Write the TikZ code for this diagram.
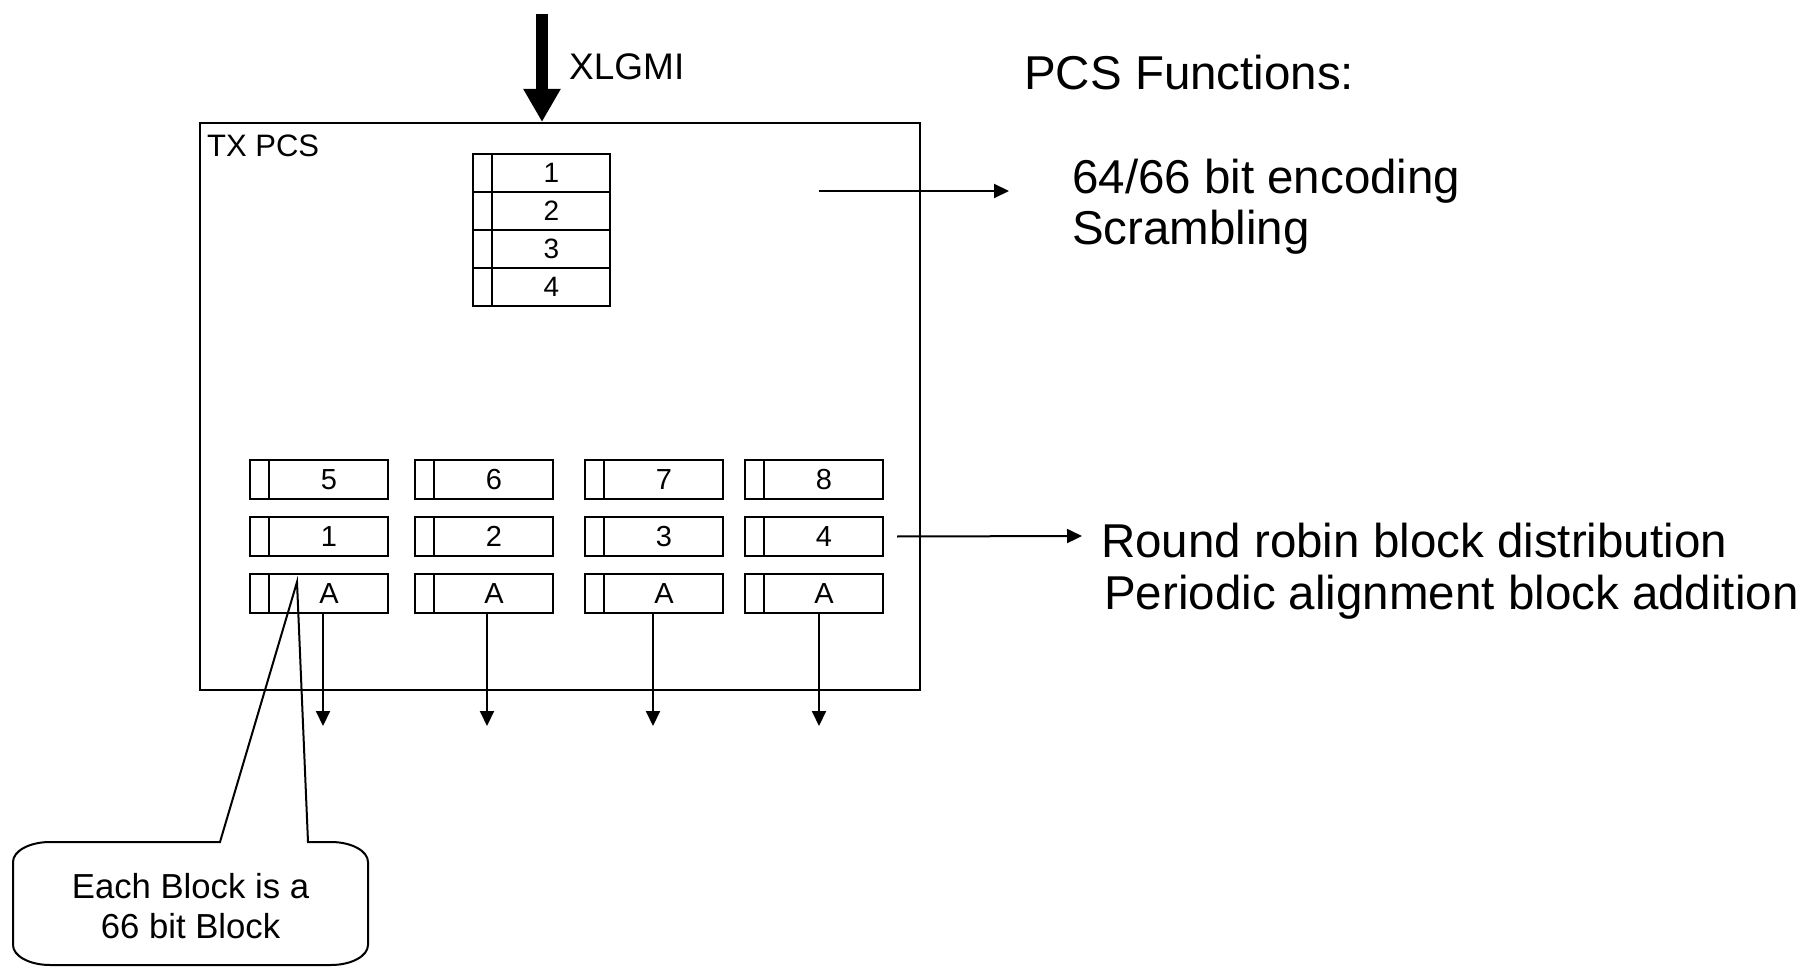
\documentclass[tikz,border=0pt]{standalone}
\usepackage{fontspec}
\setmainfont{Liberation Sans}
\usetikzlibrary{arrows.meta,calc}
\tikzset{
  blk/.style={draw, line width=2pt, inner sep=0pt, rectangle},
  lbl/.style={inner sep=0pt},
  arr/.style={line width=2pt, -{Triangle[length=15pt,width=14pt]}},
  bigtxt/.style={inner sep=0pt, anchor=base west, font=\fontsize{47.5pt}{52pt}\selectfont},
}
\newcommand\blkbox[8]{%
  \node[blk, minimum width=#4pt, minimum height=#5pt, anchor=north west] (#1) at (#2,#3) {};
  \draw[line width=2.4pt] ([xshift=#6pt]#1.north west) -- ([xshift=#6pt]#1.south west);
  \node[lbl, font=\fontsize{#8pt}{#8pt}\selectfont] (#1l) at ($([xshift=#6pt]#1.west)!0.5!(#1.east)$) {#7};
}
\begin{document}
\begin{tikzpicture}[x=1pt,y=-1pt]
\useasboundingbox (0,0) rectangle (1813,968);
% main box
\node[blk, minimum width=720pt, minimum height=567pt, anchor=north west] (pcs) at (199,122) {};
\node[lbl, anchor=base west, font=\fontsize{31pt}{34pt}\selectfont] (txl) at (207,157) {TX PCS};
% input arrow
\coordinate (xin) at (542,14);
\draw[line width=12pt, -{Triangle[length=33pt,width=35pt]}] (xin) -- (xin |- pcs.north);
\node[lbl, anchor=base west, font=\fontsize{37pt}{40pt}\selectfont] (xl) at (569,80) {XLGMI};
% top stack
\blkbox{t1}{472}{153}{137}{38}{20}{1}{28}
\blkbox{t2}{472}{191}{137}{38}{20}{2}{28}
\blkbox{t3}{472}{229}{137}{38}{20}{3}{28}
\blkbox{t4}{472}{267}{137}{38}{20}{4}{28}
% bottom blocks
\blkbox{b11}{249}{459}{138}{39}{20}{5}{29}
\blkbox{b12}{414}{459}{138}{39}{20}{6}{29}
\blkbox{b13}{584}{459}{138}{39}{20}{7}{29}
\blkbox{b14}{744}{459}{138}{39}{20}{8}{29}
\blkbox{b21}{249}{516}{138}{39}{20}{1}{29}
\blkbox{b22}{414}{516}{138}{39}{20}{2}{29}
\blkbox{b23}{584}{516}{138}{39}{20}{3}{29}
\blkbox{b24}{744}{516}{138}{39}{20}{4}{29}
\blkbox{b31}{249}{573}{138}{39}{20}{A}{29}
\blkbox{b32}{414}{573}{138}{39}{20}{A}{29}
\blkbox{b33}{584}{573}{138}{39}{20}{A}{29}
\blkbox{b34}{744}{573}{138}{39}{20}{A}{29}
% output arrows
\coordinate (o1) at (323,726);
\coordinate (o2) at (487,726);
\coordinate (o3) at (653,726);
\coordinate (o4) at (819,726);
\draw[arr] (b31.south -| o1) -- (o1);
\draw[arr] (b32.south -| o2) -- (o2);
\draw[arr] (b33.south -| o3) -- (o3);
\draw[arr] (b34.south -| o4) -- (o4);
% function arrows
\coordinate (f1s) at (819,191);
\coordinate (f1e) at (1009,191);
\draw[arr] (f1s) -- (f1e);
\coordinate (f2e) at (1082,536);
\draw[arr] ([xshift=13pt]b24.east) -- (f2e);
% texts
\node[bigtxt] (pf) at (1024,90) {PCS Functions:};
\node[bigtxt] (enc) at (1072,194) {64/66 bit encoding};
\node[bigtxt] (scr) at (1072,245) {Scrambling};
\node[bigtxt] (rr) at (1101,557) {Round robin block distribution};
\node[bigtxt] (pa) at (1104,609) {Periodic alignment block addition};
% callout
\coordinate (tip) at (297,582);
\draw[line width=2pt, line join=miter]
  (220,842) -- (tip) -- (308,842) -- (331,842)
  arc[start angle=-90, end angle=0, x radius=37, y radius=20]
  -- (368,945)
  arc[start angle=0, end angle=90, x radius=37, y radius=20]
  -- (50,965)
  arc[start angle=90, end angle=180, x radius=37, y radius=20]
  -- (13,862)
  arc[start angle=180, end angle=270, x radius=37, y radius=20]
  -- cycle;
\node[lbl, anchor=north, align=center, font=\fontsize{34.7pt}{40pt}\selectfont] (cl) at (190.5,873) {Each Block is a\\66 bit Block};
\end{tikzpicture}
\end{document}
